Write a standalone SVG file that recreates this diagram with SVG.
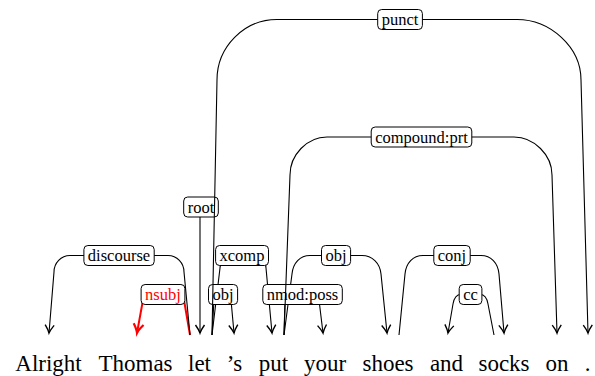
<svg xmlns="http://www.w3.org/2000/svg" width="595" height="376" viewBox="0 0 595 376">
<style>
.w{font-family:"Liberation Serif","Times New Roman",serif;font-size:23px;fill:#000;text-anchor:middle}
.e{fill:none;stroke:#000;stroke-width:1.1;marker-end:url(#ah)}
.er{fill:none;stroke:#f00;stroke-width:2;marker-end:url(#ahr)}
.b{fill:#fff;stroke:#000;stroke-width:1}
.l{font-family:"Liberation Serif","Times New Roman",serif;font-size:16.5px;fill:#000;text-anchor:middle}
.lr{fill:#f00}
</style>
<defs>
<marker id="ah" markerUnits="userSpaceOnUse" markerWidth="14" markerHeight="14" viewBox="-10 -7 12 14" refX="0" refY="0" orient="auto" overflow="visible">
<path d="M -8 -4.5 Q -3 -1 0 0 Q -3 1 -8 4.5" fill="none" stroke="#000" stroke-width="1.4"/>
</marker>
<marker id="ahr" markerUnits="userSpaceOnUse" markerWidth="14" markerHeight="14" viewBox="-10 -7 12 14" refX="0" refY="0" orient="auto" overflow="visible">
<path d="M -9 -5 Q -3.5 -1 0 0 Q -3.5 1 -9 5" fill="none" stroke="#f00" stroke-width="2.2"/>
</marker>
</defs>
<g id="connectors">
<g id="e-xcomp">
<path class="e" d="M 212 335 L 220 268 C 220 261 224 255.5 230 255.5 L 256 255.5 C 262 255.5 266 261 266 268 L 272 333"/>
<rect class="b" x="215.6" y="245.5" width="52.9" height="20" rx="4"/>
<text class="l" x="242" y="261.3">xcomp</text>
</g>
<g id="e-obj2">
<path class="e" d="M 284 335 L 292 274 C 293 263 300 255.5 310 255.5 L 362 255.5 C 372 255.5 380 263 381 274 L 387 333"/>
<rect class="b" x="321.5" y="245.5" width="29.1" height="20" rx="4"/>
<text class="l" x="336" y="261.3">obj</text>
</g>
<g id="e-nsubj">
<path class="er" d="M 190 335 L 184 300 C 183 297 181 294.5 178 294.5 L 148 294.5 C 145 294.5 143 297 143 300 L 137 333"/>
<rect class="b" x="141.1" y="284.5" width="43.8" height="20" rx="4"/>
<text class="l lr" x="163" y="300.3">nsubj</text>
</g>
<g id="e-obj1">
<path class="e" d="M 212 335 L 214 300 C 214 297 216 294.5 219 294.5 L 227 294.5 C 230 294.5 231 297 231 300 L 234 333"/>
<rect class="b" x="208.5" y="284.5" width="29.1" height="20" rx="4"/>
<text class="l" x="223" y="300.3">obj</text>
</g>
<g id="e-nmodposs">
<path class="e" d="M 284 335 L 285 300 C 285 296 287 294.5 291 294.5 L 313 294.5 C 317 294.5 319 297 319 300 L 323 333"/>
<rect class="b" x="262.8" y="284.5" width="79.5" height="20" rx="4"/>
<text class="l" x="302.5" y="300.3">nmod:poss</text>
</g>
<g id="e-root">
<path class="e" d="M 200 217 L 200 333"/>
<rect class="b" x="183.7" y="197" width="34.6" height="20" rx="4"/>
<text class="l" x="201" y="212.8">root</text>
</g>
<g id="e-discourse">
<rect class="b" x="83.9" y="245.5" width="70.3" height="20" rx="4"/>
<text class="l" x="119" y="261.3">discourse</text>
<path class="e" d="M 190 335 L 184 272 C 184 263 177 255.5 168 255.5 L 154.2 255.5 M 83.9 255.5 L 70 255.5 C 61 255.5 54 263 54 272 L 49 333"/>
</g>
<g id="e-conj">
<path class="e" d="M 399 335 L 405 274 C 406 263 413 255.5 423 255.5 L 481 255.5 C 491 255.5 498 263 499 274 L 504 333"/>
<rect class="b" x="433.8" y="245.5" width="36.4" height="20" rx="4"/>
<text class="l" x="452" y="261.3">conj</text>
</g>
<g id="e-cc">
<path class="e" d="M 494 335 L 488 304 C 487 298 485 294.5 480 294.5 L 461 294.5 C 456 294.5 454 298 453 304 L 448 333"/>
<rect class="b" x="459.2" y="284.5" width="22.7" height="20" rx="4"/>
<text class="l" x="470.5" y="300.3">cc</text>
</g>
<g id="e-compoundprt">
<rect class="b" x="371.2" y="127" width="100.6" height="20" rx="4"/>
<text class="l" x="421.5" y="142.8">compound:prt</text>
<path class="e" d="M 284 335 L 290 175 C 290 155 307 137 327 137 L 371.2 137 M 471.8 137 L 514 137 C 534 137 552 155 552 175 L 557 333"/>
</g>
<g id="e-punct">
<rect class="b" x="377.7" y="9.5" width="44.7" height="20" rx="4"/>
<text class="l" x="400" y="25.3">punct</text>
<path class="e" d="M 212 335 L 217 80 C 217 47 244 19.5 277 19.5 L 377.7 19.5 M 422.4 19.5 L 517 19.5 C 550 19.5 581 47 581 80 L 588 333"/>
</g>
</g>
<g id="w1"><text class="w" x="48.5" y="371">Alright</text></g>
<g id="w2"><text class="w" x="135.5" y="371">Thomas</text></g>
<g id="w3"><text class="w" x="199.5" y="371">let</text></g>
<g id="w4"><text class="w" x="234.5" y="371">’s</text></g>
<g id="w5"><text class="w" x="273.5" y="371">put</text></g>
<g id="w6"><text class="w" x="325" y="371">your</text></g>
<g id="w7"><text class="w" x="388" y="371">shoes</text></g>
<g id="w8"><text class="w" x="446.5" y="371">and</text></g>
<g id="w9"><text class="w" x="504" y="371">socks</text></g>
<g id="w10"><text class="w" x="557" y="371">on</text></g>
<g id="w11"><text class="w" x="587.5" y="371">.</text></g>
</svg>
